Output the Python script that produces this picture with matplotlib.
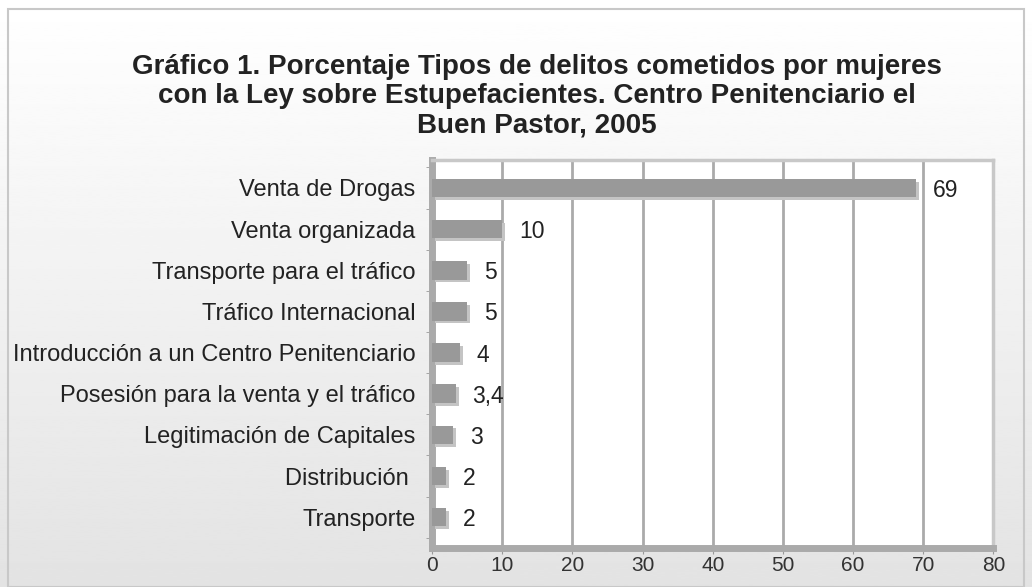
import numpy as np
import matplotlib.pyplot as plt
import matplotlib.patheffects as pe
from matplotlib.patches import Rectangle

# datos del grafico
categorias = ["Venta de Drogas", "Venta organizada", "Transporte para el tráfico",
              "Tráfico Internacional", "Introducción a un Centro Penitenciario",
              "Posesión para la venta y el tráfico", "Legitimación de Capitales",
              "Distribución ", "Transporte"]
porcentajes = [69, 10, 5, 5, 4, 3.4, 3, 2, 2]
etiquetas = ["69", "10", "5", "5", "4", "3,4", "3", "2", "2"]
ticks_x = [0, 10, 20, 30, 40, 50, 60, 70, 80]

titulo = ("Gráfico 1. Porcentaje Tipos de delitos cometidos por mujeres\n"
          "con la Ley sobre Estupefacientes. Centro Penitenciario el\n"
          "Buen Pastor, 2005")

plt.rcParams['font.family'] = ['Liberation Sans', 'DejaVu Sans']

fig = plt.figure(figsize=(10.32, 5.87), dpi=100)

# fondo degradado blanco -> gris
fondo = fig.add_axes([0, 0, 1, 1], zorder=-10)
grad = np.linspace(0.89, 1.0, 256).reshape(-1, 1)
fondo.imshow(grad, cmap="gray", vmin=0, vmax=1, aspect="auto",
             extent=[0, 1, 0, 1], origin="lower")
fondo.add_patch(Rectangle((0.008, 0.0), 0.984, 0.985, fill=False,
                          edgecolor="#c8c8c8", lw=1.5))
fondo.set_xlim(0, 1)
fondo.set_ylim(0, 1)
fondo.axis("off")

fig.text(0.52, 0.836, titulo, ha="center", va="center", fontsize=20,
         fontweight="bold", color="#222222", linespacing=1.18)

ax = fig.add_axes([0.4186, 0.0664, 0.544, 0.661])
ax.set_facecolor("white")
y = np.arange(len(categorias))

barras = ax.barh(y, porcentajes, height=0.45, color="#999999", zorder=3)
for b in barras:
    b.set_path_effects([pe.SimplePatchShadow(offset=(2, -2), shadow_rgbFace="#c4c4c4", alpha=1.0),
                        pe.Normal()])

for yi, v, t in zip(y, porcentajes, etiquetas):
    ax.annotate(t, (v, yi), xytext=(12, 0), textcoords="offset points",
                va="center_baseline", ha="left", fontsize=16.5, color="#222222")

ax.set_xlim(0, 80)
ax.set_ylim(8.75, -0.68)
ax.set_xticks(ticks_x)
ax.set_yticks(y)
ax.set_yticklabels(categorias, fontsize=17, color="#222222")
ax.tick_params(axis="x", labelsize=15, labelcolor="#333333", length=4,
               color="#999999", pad=2)
ax.tick_params(axis="y", length=0, pad=12)
# marcas entre categorias en el eje y
ax.set_yticks(np.arange(-0.5, len(categorias), 1), minor=True)
ax.tick_params(axis="y", which="minor", length=4, color="#999999")

ax.grid(axis="x", color="#aaaaaa", lw=2, zorder=1)
for lado in ["left", "bottom"]:
    ax.spines[lado].set_color("#aaaaaa")
    ax.spines[lado].set_linewidth(5)
for lado in ["top", "right"]:
    ax.spines[lado].set_color("#c8c8c8")
    ax.spines[lado].set_linewidth(2.5)

fig.savefig("out.png", dpi=100)
